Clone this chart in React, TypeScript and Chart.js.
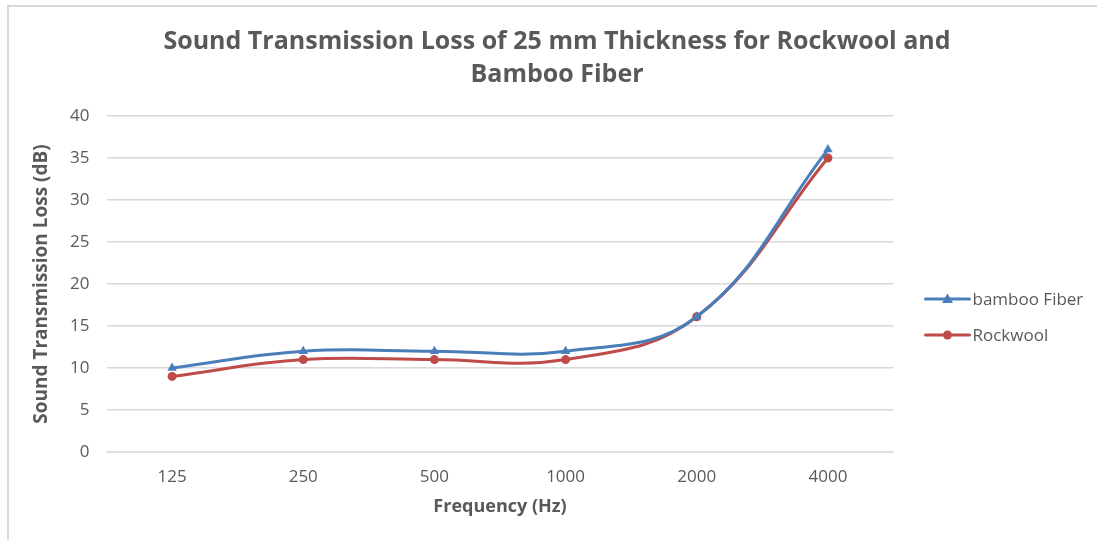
import React, { useEffect, useRef } from "react";
import { Chart, registerables } from "chart.js";

Chart.register(...registerables);

const categories = ["125", "250", "500", "1000", "2000", "4000"];
const bambooFiber = [10, 12, 12, 12, 16.1, 36];
const rockwool = [9, 11, 11, 11, 16.1, 35];
const yTicks = [0, 5, 10, 15, 20, 25, 30, 35, 40];
const titleLines = [
  "Sound Transmission Loss of 25 mm Thickness for Rockwool and",
  "Bamboo Fiber",
];

const BLUE = "#4A7EBB";
const RED = "#BE4B48";
const TEXT = "#595959";
const FONT = "'Open Sans', 'DejaVu Sans', sans-serif";

const titlePlugin = {
  id: "customTitle",
  afterDraw(chart: any) {
    const { ctx } = chart;
    ctx.save();
    ctx.fillStyle = TEXT;
    ctx.font = `bold 25px ${FONT}`;
    ctx.textAlign = "center";
    ctx.textBaseline = "middle";
    titleLines.forEach((t, i) => ctx.fillText(t, 557, 42 + i * 33));
    ctx.restore();
  },
};

const legendPlugin = {
  id: "customLegend",
  afterDraw(chart: any) {
    const { ctx, chartArea } = chart;
    const x0 = chartArea.right + 32;
    const items = chart.data.datasets.map((d: any, i: number) => ({
      label: d.label,
      color: d.borderColor,
      style: d.pointStyle,
      y: 299 + i * 36,
    }));
    ctx.save();
    items.forEach((it: any) => {
      ctx.strokeStyle = it.color;
      ctx.lineWidth = 3;
      ctx.lineCap = "round";
      ctx.beginPath();
      ctx.moveTo(x0, it.y);
      ctx.lineTo(x0 + 44, it.y);
      ctx.stroke();
      ctx.fillStyle = it.color;
      const cx = x0 + 22;
      ctx.beginPath();
      if (it.style === "triangle") {
        ctx.moveTo(cx, it.y - 5.5);
        ctx.lineTo(cx + 5.5, it.y + 4);
        ctx.lineTo(cx - 5.5, it.y + 4);
        ctx.closePath();
      } else {
        ctx.arc(cx, it.y, 4.5, 0, Math.PI * 2);
      }
      ctx.fill();
      ctx.fillStyle = TEXT;
      ctx.font = `17px ${FONT}`;
      ctx.textBaseline = "middle";
      ctx.textAlign = "left";
      ctx.fillText(it.label, x0 + 47, it.y + 1);
    });
    ctx.restore();
  },
};

export default function App() {
  const ref = useRef<HTMLCanvasElement>(null);

  useEffect(() => {
    document.body.style.margin = "0";
    const canvas = ref.current;
    if (!canvas) return;
    const chart = new Chart(canvas, {
      type: "line",
      data: {
        labels: categories,
        datasets: [
          {
            label: "bamboo Fiber",
            data: bambooFiber,
            borderColor: BLUE,
            backgroundColor: BLUE,
            borderWidth: 3,
            pointStyle: "triangle",
            pointRadius: 5.5,
            pointBorderWidth: 0,
            tension: 0.4,
          },
          {
            label: "Rockwool",
            data: rockwool,
            borderColor: RED,
            backgroundColor: RED,
            borderWidth: 3,
            pointStyle: "circle",
            pointRadius: 4.5,
            pointBorderWidth: 0,
            tension: 0.4,
          },
        ],
      },
      options: {
        animation: false,
        responsive: false,
        maintainAspectRatio: false,
        layout: { padding: { left: 20, right: 203.5, top: 116, bottom: 0 } },
        plugins: {
          legend: { display: false },
          tooltip: { enabled: false },
          title: { display: false },
        },
        scales: {
          x: {
            offset: true,
            grid: { display: false, drawTicks: false },
            border: { display: true, color: "#d9d9d9", width: 1.5 },
            ticks: {
              color: TEXT,
              font: { family: FONT, size: 17 },
              padding: 15,
              maxRotation: 0,
            },
            title: {
              display: true,
              text: "Frequency (Hz)",
              color: TEXT,
              font: { family: FONT, size: 18, weight: "bold", lineHeight: 1.2 },
              padding: { top: 0, bottom: 22.2 },
            },
            afterFit: (s: any) => {
              s.height = 88;
            },
          },
          y: {
            min: 0,
            max: 40,
            afterBuildTicks: (s: any) => {
              s.ticks = yTicks.map((v) => ({ value: v }));
            },
            grid: { color: "#d9d9d9", lineWidth: 1.5, drawTicks: false },
            border: { display: false },
            ticks: {
              color: TEXT,
              font: { family: FONT, size: 17 },
              padding: 17,
            },
            title: {
              display: true,
              text: "Sound Transmission Loss (dB)",
              color: TEXT,
              font: { family: FONT, size: 19, weight: "bold", lineHeight: 1.2 },
              padding: { top: 10.6, bottom: 0 },
            },
            afterFit: (s: any) => {
              s.width = 86.5;
            },
          },
        },
      },
      plugins: [titlePlugin, legendPlugin],
    });
    return () => chart.destroy();
  }, []);

  return (
    <div style={{ position: "absolute", left: 0, top: 0, width: 1097, height: 540, background: "#fff" }}>
      <div
        style={{
          position: "absolute",
          left: 7,
          top: 5,
          right: 0,
          bottom: 0,
          borderLeft: "2px solid #d9d9d9",
          borderTop: "2px solid #d9d9d9",
        }}
      />
      <canvas ref={ref} width={1097} height={540} style={{ position: "absolute", left: 0, top: 0 }} />
    </div>
  );
}
